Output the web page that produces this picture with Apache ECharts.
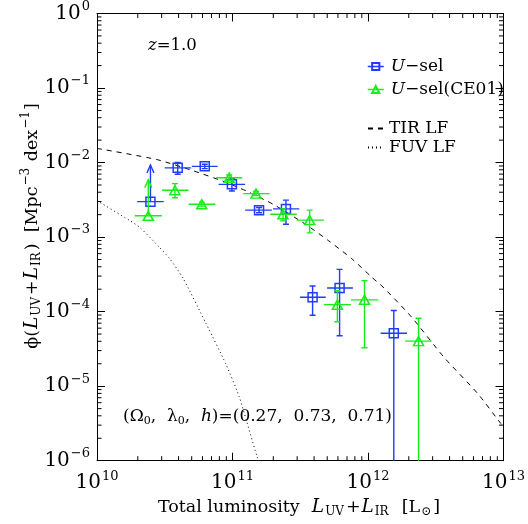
<!DOCTYPE html>
<html><head><meta charset="utf-8">
<script src="https://cdn.jsdelivr.net/npm/echarts@6/dist/echarts.min.js"></script>
<style>html,body{margin:0;padding:0;background:#fff}#c{width:528px;height:524px}</style>
</head><body><div id="c"></div>
<script>
// ---------- data ----------
const xTickExponents = [10, 11, 12, 13];
const yTickExponents = [0, -1, -2, -3, -4, -5, -6];

// U-sel (blue squares)
const uselLum   = [2.48e10, 3.94e10, 6.24e10, 9.9e10, 1.57e11, 2.48e11, 3.9e11, 6.17e11, 1.55e12];
const uselLumLo = [1.98e10, 3.16e10, 5.01e10, 7.89e10, 1.24e11, 1.99e11, 3.15e11, 4.99e11, 1.24e12];
const uselLumHi = [3.11e10, 4.95e10, 7.76e10, 1.24e11, 1.95e11, 3.11e11, 4.88e11, 7.74e11, 1.94e12];
const uselPhi   = [2.99e-3, 8.5e-3, 8.9e-3, 5.1e-3, 2.3e-3, 2.39e-3, 1.56e-4, 2.08e-4, 5.14e-5];
const uselPhiLo = [null, 6.97e-3, 8.3e-3, 4.16e-3, 2.12e-3, 1.49e-3, 8.95e-5, 4.74e-5, null];
const uselPhiHi = [null, 1.0e-2, 9.5e-3, 6.15e-3, 2.5e-3, 3.13e-3, 2.21e-4, 3.69e-4, 1.035e-4];
const uselLimit = [9.3e-3, null, null, null, null, null, null, null, null];

// U-sel(CE01) (green triangles)
const ceLum   = [2.39e10, 3.76e10, 5.93e10, 9.46e10, 1.49e11, 2.36e11, 3.71e11, 5.94e11, 9.42e11, 2.36e12];
const ceLumLo = [1.90e10, 3.02e10, 4.76e10, 7.55e10, 1.20e11, 1.90e11, 2.98e11, 4.72e11, 7.48e11, 1.88e12];
const ceLumHi = [3.01e10, 4.74e10, 7.46e10, 1.18e11, 1.88e11, 2.98e11, 4.72e11, 7.48e11, 1.19e12, 2.94e12];
const cePhi   = [1.93e-3, 4.25e-3, 2.76e-3, 6.27e-3, 3.83e-3, 2.03e-3, 1.69e-3, 1.24e-4, 1.44e-4, 4.02e-5];
const cePhiLo = [null, 3.38e-3, 2.6e-3, 5.8e-3, 3.6e-3, 1.65e-3, 1.14e-3, 7.31e-5, 3.28e-5, null];
const cePhiHi = [null, 5.21e-3, 2.95e-3, 6.8e-3, 4.1e-3, 2.39e-3, 2.30e-3, 1.91e-4, 2.61e-4, 8.17e-5];
const ceLimit = [5.9e-3, null, null, null, null, null, null, null, null, null];

// TIR LF (dashed)
const tirLum = [1e10, 2.75e10, 5.13e10, 8.51e10, 1.26e11, 2.0e11, 3.47e11, 5.13e11, 7.59e11, 1.07e12, 1.29e12, 2.09e12, 3.63e12, 6.46e12, 9.55e12, 1e13];
const tirPhi = [1.55e-2, 1.10e-2, 7.76e-3, 5.62e-3, 4.17e-3, 2.75e-3, 1.48e-3, 8.91e-4, 5.13e-4, 2.88e-4, 2.14e-4, 8.51e-5, 2.45e-5, 7.94e-6, 3.16e-6, 2.95e-6];

// FUV LF (dotted)
const fuvLum = [1e10, 1.75e10, 2.07e10, 2.90e10, 3.44e10, 4.31e10, 6.38e10, 8.91e10, 1.12e11, 1.52e11, 1.57e11];
const fuvPhi = [3.09e-3, 1.66e-3, 1.35e-3, 7.24e-4, 5.13e-4, 2.82e-4, 6.92e-5, 2.0e-5, 7.24e-6, 1.12e-6, 1.0e-6];

// ---------- styling ----------
const FONT = 'DejaVu Serif';
const BLUE = '#1f3cff';
const GREEN = '#17ee17';
const X_MIN = 1e10, X_MAX = 1e13, Y_MIN = 1e-6, Y_MAX = 1;

const supRich = {
  b: {fontFamily: FONT, fontSize: 20, color: '#000'},
  s: {fontFamily: FONT, fontSize: 13, color: '#000', padding: [0, 0, 14, 1]}
};
function expLabel(e) {
  const t = e < 0 ? '\u2212' + (-e) : String(e);
  return '{b|10}{s|' + t + '}';
}
function fmtX(v) {
  const e = Math.round(Math.log10(v));
  return xTickExponents.indexOf(e) >= 0 ? expLabel(e) : '';
}
function fmtY(v) {
  const e = Math.round(Math.log10(v));
  return yTickExponents.indexOf(e) >= 0 ? expLabel(e) : '';
}

function nameRich(fs) {
  return {
    r: {fontFamily: FONT, fontSize: fs, fill: '#000'},
    i: {fontFamily: FONT, fontSize: fs + 1, fontStyle: 'italic', fill: '#000', padding: [0, 0, 0, 1]},
    sub: {fontFamily: FONT, fontSize: 12, fill: '#000', padding: [10, 2, 0, 1]},
    sup: {fontFamily: FONT, fontSize: 12, fill: '#000', padding: [0, 1, 12, 1]}
  };
}

function makeErr(lumLo, lumHi, phiLo, phiHi, limit, color) {
  return function (params, api) {
    const i = params.dataIndex;
    const x = api.value(0), y = api.value(1);
    const c = api.coord([x, y]);
    const cs = params.coordSys;
    const L = api.coord([lumLo[i], y]), R = api.coord([lumHi[i], y]);
    const st = {stroke: color, lineWidth: 1.4, fill: null};
    const ch = [{type: 'line', shape: {x1: L[0], y1: c[1], x2: R[0], y2: c[1]}, style: st}];
    if (phiHi[i] != null) {
      const t = api.coord([x, phiHi[i]])[1];
      const b = phiLo[i] != null ? api.coord([x, phiLo[i]])[1] : cs.y + cs.height + 3;
      ch.push({type: 'line', shape: {x1: c[0], y1: t, x2: c[0], y2: b}, style: st});
      ch.push({type: 'line', shape: {x1: c[0] - 3, y1: t, x2: c[0] + 3, y2: t}, style: st});
      if (phiLo[i] != null) ch.push({type: 'line', shape: {x1: c[0] - 3, y1: b, x2: c[0] + 3, y2: b}, style: st});
    }
    if (limit[i] != null) {
      const t = api.coord([x, limit[i]])[1];
      ch.push({type: 'line', shape: {x1: c[0], y1: c[1], x2: c[0], y2: t}, style: st});
      ch.push({type: 'polyline', shape: {points: [[c[0] - 3.5, t + 8], [c[0], t], [c[0] + 3.5, t + 8]]}, style: st});
    }
    return {type: 'group', children: ch};
  };
}

const xMinor = [], yMinor = [];
for (let n = 10; n < 13; n++) for (let k = 2; k <= 9; k++) xMinor.push(k * Math.pow(10, n));
for (let n = -6; n < 0; n++) for (let k = 2; k <= 9; k++) yMinor.push(k * Math.pow(10, n));

const chart = echarts.init(document.getElementById('c'), null, {renderer: 'canvas'});

const axisCommon = {
  type: 'log', logBase: 10,
  axisLine: {show: true, onZero: false, lineStyle: {color: '#000', width: 1}},
  axisTick: {show: true, inside: true, length: 8, lineStyle: {color: '#000', width: 1}},
  minorTick: {show: false},
  splitLine: {show: false}
};

const option = {
  animation: false,
  backgroundColor: '#fff',
  grid: {left: 97, right: 21.5, top: 12, bottom: 63.3, containLabel: false},
  xAxis: [
    Object.assign({}, axisCommon, {
      position: 'bottom', min: X_MIN, max: X_MAX,
      axisLabel: {show: true, margin: 9, formatter: fmtX, rich: supRich}
    }),
    Object.assign({}, axisCommon, {
      position: 'top', min: X_MIN, max: X_MAX, axisLabel: {show: false}
    })
  ],
  yAxis: [
    Object.assign({}, axisCommon, {
      position: 'left', min: Y_MIN, max: Y_MAX,
      axisLabel: {show: true, margin: 7, formatter: fmtY, rich: supRich}
    }),
    Object.assign({}, axisCommon, {
      position: 'right', min: Y_MIN, max: Y_MAX, axisLabel: {show: false}
    })
  ],
  legend: [
    {
      orient: 'vertical', left: 362, top: 53, itemWidth: 16, itemHeight: 9, itemGap: 6,
      selectedMode: false,
      data: [
        {name: 'U-sel', lineStyle: {width: 1.5, opacity: 1, color: BLUE}},
        {name: 'U-sel(CE01)', lineStyle: {width: 1.5, opacity: 1, color: GREEN}}
      ],
      formatter: function (n) { return '{i|U}{r|\u2212' + n.slice(2) + '}'; },
      textStyle: {
        fontFamily: FONT, fontSize: 17,
        rich: {
          i: {fontFamily: FONT, fontSize: 17, fontStyle: 'italic', lineHeight: 20, padding: [0, 0, 0, 2], color: '#000'},
          r: {fontFamily: FONT, fontSize: 17, lineHeight: 20, color: '#000'}
        }
      }
    },
    {
      orient: 'vertical', left: 362, top: 115, itemWidth: 16, itemHeight: 9, itemGap: 2,
      selectedMode: false,
      data: [
        {name: 'TIR LF', itemStyle: {opacity: 0}},
        {name: 'FUV LF', itemStyle: {opacity: 0}}
      ],
      formatter: function (n) { return '{r|' + n + '}'; },
      textStyle: {
        fontFamily: FONT, fontSize: 17,
        rich: {r: {fontFamily: FONT, fontSize: 17, lineHeight: 20, padding: [0, 0, 0, 0], color: '#000'}}
      }
    }
  ],
  graphic: [
    {
      type: 'text', x: 148, y: 46, silent: true,
      style: {
        text: '{i|z}{r|=1.0}', verticalAlign: 'middle', align: 'left',
        rich: {
          i: {fontFamily: FONT, fontSize: 16.5, fontStyle: 'italic', fill: '#000'},
          r: {fontFamily: FONT, fontSize: 16.5, fill: '#000'}
        }
      }
    },
    {
      type: 'text', x: 123, y: 417, silent: true,
      style: {
        text: '{r|(\u03a9}{sub|0}{r|,  \u03bb}{sub|0}{r|,  }{i|h}{r|)=(0.27,  0.73,  0.71)}',
        verticalAlign: 'middle', align: 'left',
        rich: {
          r: {fontFamily: FONT, fontSize: 17, fill: '#000'},
          i: {fontFamily: FONT, fontSize: 17, fontStyle: 'italic', fill: '#000'},
          sub: {fontFamily: FONT, fontSize: 11, fill: '#000', padding: [8, 0, 0, 0]}
        }
      }
    },
    {
      type: 'text', x: 299, y: 507, silent: true,
      style: {
        text: '{r|Total luminosity  }{i|L}{sub|UV}{r|+}{i|L}{sub|IR}{r|  [L}{sub|\u2299}{r|]}',
        verticalAlign: 'middle', align: 'center', rich: nameRich(17.5)
      }
    },
    {
      type: 'text', x: 32, y: 226, rotation: Math.PI / 2, silent: true,
      style: {
        text: '{r|\u03d5(}{i|L}{sub|UV}{r|+}{i|L}{sub|IR}{r|)  [Mpc}{sup|\u22123}{r| dex}{sup|\u22121}{r|]}',
        verticalAlign: 'middle', align: 'center', rich: nameRich(17.5)
      }
    }
  ],
  series: [
    {
      type: 'custom', name: 'usel-err', z: 2, clip: true, silent: true,
      data: uselLum.map((v, i) => [v, uselPhi[i]]), encode: {x: 0, y: 1},
      renderItem: makeErr(uselLumLo, uselLumHi, uselPhiLo, uselPhiHi, uselLimit, BLUE)
    },
    {
      type: 'line', name: 'U-sel', z: 3, silent: true,
      data: uselLum.map((v, i) => [v, uselPhi[i]]),
      symbol: 'rect', symbolSize: 9, showSymbol: true,
      lineStyle: {width: 1.5, opacity: 0, color: BLUE},
      itemStyle: {color: 'rgba(0,0,0,0)', borderColor: BLUE, borderWidth: 1.5}
    },
    {
      type: 'custom', name: 'ce-err', z: 4, clip: true, silent: true,
      data: ceLum.map((v, i) => [v, cePhi[i]]), encode: {x: 0, y: 1},
      renderItem: makeErr(ceLumLo, ceLumHi, cePhiLo, cePhiHi, ceLimit, GREEN)
    },
    {
      type: 'line', name: 'U-sel(CE01)', z: 5, silent: true,
      data: ceLum.map((v, i) => [v, cePhi[i]]),
      symbol: 'triangle', symbolSize: [10, 9], showSymbol: true,
      lineStyle: {width: 1.5, opacity: 0, color: GREEN},
      itemStyle: {color: 'rgba(0,0,0,0)', borderColor: GREEN, borderWidth: 1.5}
    },
    {
      type: 'line', name: 'TIR LF', z: 1, silent: true, showSymbol: false, symbol: 'none', smooth: 0.2,
      data: tirLum.map((v, i) => [v, tirPhi[i]]),
      lineStyle: {color: '#000', width: 1, type: [5, 5]},
      itemStyle: {color: '#000'}
    },
    {
      type: 'line', name: 'FUV LF', z: 1, silent: true, showSymbol: false, symbol: 'none', smooth: 0.2,
      data: fuvLum.map((v, i) => [v, fuvPhi[i]]),
      lineStyle: {color: '#000', width: 1, type: [1, 3]},
      itemStyle: {color: '#000'}
    },
    {
      type: 'custom', name: 'xminor', z: 6, silent: true, clip: false,
      data: xMinor.map(v => [v, Y_MIN]), encode: {x: 0, y: 1},
      renderItem: function (params, api) {
        const cs = params.coordSys;
        const x = api.coord([api.value(0), Y_MIN])[0];
        const st = {stroke: '#000', lineWidth: 1};
        return {type: 'group', children: [
          {type: 'line', shape: {x1: x, y1: cs.y + cs.height, x2: x, y2: cs.y + cs.height - 4.5}, style: st},
          {type: 'line', shape: {x1: x, y1: cs.y, x2: x, y2: cs.y + 4.5}, style: st}
        ]};
      }
    },
    {
      type: 'custom', name: 'yminor', z: 6, silent: true, clip: false,
      data: yMinor.map(v => [X_MIN, v]), encode: {x: 0, y: 1},
      renderItem: function (params, api) {
        const cs = params.coordSys;
        const y = api.coord([X_MIN, api.value(1)])[1];
        const st = {stroke: '#000', lineWidth: 1};
        return {type: 'group', children: [
          {type: 'line', shape: {x1: cs.x, y1: y, x2: cs.x + 4.5, y2: y}, style: st},
          {type: 'line', shape: {x1: cs.x + cs.width, y1: y, x2: cs.x + cs.width - 4.5, y2: y}, style: st}
        ]};
      }
    }
  ]
};
chart.setOption(option);
</script>
</body></html>
